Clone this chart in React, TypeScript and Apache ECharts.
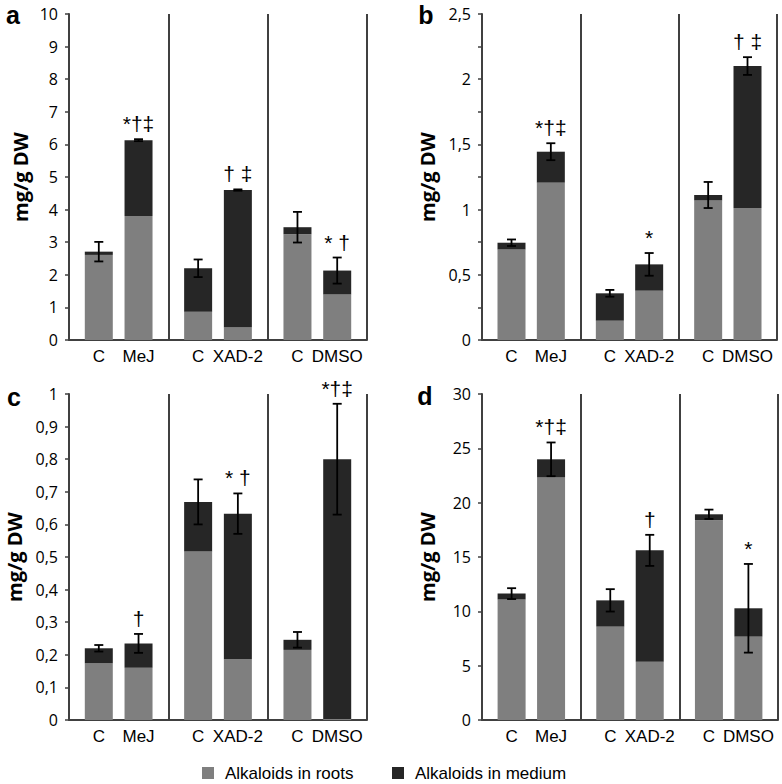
import React, { useEffect, useRef } from 'react';
import * as echarts from 'echarts';

// ---- data ----
const CATEGORIES = ['C', 'MeJ', 'C', 'XAD-2', 'C', 'DMSO'];
const SERIES_NAMES = ['Alkaloids in roots', 'Alkaloids in medium'];

// panel a
const A_ROOTS = [2.61, 3.8, 0.87, 0.38, 3.24, 1.4];
const A_MEDIUM = [0.1, 2.33, 1.33, 4.22, 0.22, 0.73];
const A_ERR = [0.3, 0.03, 0.27, 0.02, 0.47, 0.4];
const A_MARKS = ['', '*†‡', '', '† ‡', '', '* †'];

// panel b
const B_ROOTS = [0.695, 1.207, 0.148, 0.378, 1.071, 1.012];
const B_MEDIUM = [0.051, 0.237, 0.21, 0.202, 0.041, 1.089];
const B_ERR = [0.025, 0.065, 0.026, 0.087, 0.1, 0.068];
const B_MARKS = ['', '*†‡', '', '*', '', '† ‡'];

// panel c
const C_ROOTS = [0.174, 0.16, 0.517, 0.186, 0.215, 0.003];
const C_MEDIUM = [0.046, 0.075, 0.152, 0.447, 0.031, 0.797];
const C_ERR = [0.01, 0.029, 0.069, 0.062, 0.024, 0.17];
const C_MARKS = ['', '†', '', '* †', '', '*†‡'];

// panel d
const D_ROOTS = [11.1, 22.33, 8.59, 5.37, 18.37, 7.67];
const D_MEDIUM = [0.53, 1.66, 2.42, 10.24, 0.56, 2.61];
const D_ERR = [0.5, 1.55, 1.03, 1.43, 0.43, 4.08];
const D_MARKS = ['', '*†‡', '', '†', '', '*'];

// axis scales
const A_AXIS = { max: 10, interval: 1, labelEvery: 1 };
const B_AXIS = { max: 2.5, interval: 0.25, labelEvery: 2 };
const C_AXIS = { max: 1, interval: 0.1, labelEvery: 1 };
const D_AXIS = { max: 30, interval: 5, labelEvery: 1 };

// ---- layout ----
const SLOT_COUNT = 15;
const SLOTS = [1, 3, 6, 8, 11, 13];
const ROOT_COLOR = '#7f7f7f';
const MEDIUM_COLOR = '#262626';
const AXIS_COLOR = '#404040';

const PANELS = [
  { letter: 'a', roots: A_ROOTS, medium: A_MEDIUM, err: A_ERR, marks: A_MARKS, axis: A_AXIS,
    grid: { left: 69, top: 14, width: 298, height: 326 }, title: [20, 177], letterPos: [13, 15] },
  { letter: 'b', roots: B_ROOTS, medium: B_MEDIUM, err: B_ERR, marks: B_MARKS, axis: B_AXIS,
    grid: { left: 482, top: 14, width: 295, height: 326 }, title: [427, 177], letterPos: [426, 15] },
  { letter: 'c', roots: C_ROOTS, medium: C_MEDIUM, err: C_ERR, marks: C_MARKS, axis: C_AXIS,
    grid: { left: 69, top: 394, width: 298, height: 326 }, title: [14, 557], letterPos: [14, 397] },
  { letter: 'd', roots: D_ROOTS, medium: D_MEDIUM, err: D_ERR, marks: D_MARKS, axis: D_AXIS,
    grid: { left: 482, top: 394, width: 296, height: 326 }, title: [427, 557], letterPos: [425, 396] },
];

function spread(values: (number | string)[], fill: any) {
  const out: any[] = new Array(SLOT_COUNT).fill(fill);
  SLOTS.forEach((s, i) => { out[s] = values[i]; });
  return out;
}

function buildOption() {
  const grids: any[] = [];
  const xAxes: any[] = [];
  const yAxes: any[] = [];
  const series: any[] = [];
  const graphics: any[] = [];

  PANELS.forEach((p, pi) => {
    grids.push({ ...p.grid, outerBoundsMode: 'none' });
    xAxes.push({
      type: 'category',
      gridIndex: pi,
      data: spread(CATEGORIES, ''),
      axisLine: { show: true, lineStyle: { color: AXIS_COLOR, width: 2 } },
      axisTick: { show: false },
      axisLabel: {
        interval: 0, margin: 8, color: '#000', fontSize: 17,
        fontFamily: '"Liberation Sans", Arial, sans-serif',
      },
      splitLine: {
        show: true,
        interval: (idx: number) => idx === 5 || idx === 10,
        lineStyle: { color: AXIS_COLOR, width: 2 },
      },
    });
    const ax = p.axis;
    yAxes.push({
      type: 'value',
      gridIndex: pi,
      min: 0,
      max: ax.max,
      interval: ax.interval,
      axisLine: { show: true, lineStyle: { color: AXIS_COLOR, width: 2 } },
      axisTick: { show: true, length: 4, lineStyle: { color: AXIS_COLOR, width: 1.5 } },
      splitLine: { show: false },
      axisLabel: {
        margin: 11, color: '#000', fontSize: 16,
        fontFamily: '"Open Sans", sans-serif',
        formatter: (v: number) => {
          const k = Math.round(v / ax.interval);
          if (k % ax.labelEvery !== 0) return '';
          const r = Math.round(v * 100) / 100;
          return String(r).replace('.', ',');
        },
      },
    });
    series.push({
      name: SERIES_NAMES[0], type: 'bar', xAxisIndex: pi, yAxisIndex: pi, stack: 'st' + pi,
      barWidth: 28, data: spread(p.roots, null), itemStyle: { color: ROOT_COLOR },
    });
    series.push({
      name: SERIES_NAMES[1], type: 'bar', xAxisIndex: pi, yAxisIndex: pi, stack: 'st' + pi,
      barWidth: 28, data: spread(p.medium, null), itemStyle: { color: MEDIUM_COLOR },
    });
    const marks = p.marks;
    series.push({
      type: 'custom', xAxisIndex: pi, yAxisIndex: pi, z: 5,
      encode: { x: 0, y: 1 },
      data: SLOTS.map((s, i) => [s, p.roots[i] + p.medium[i], p.err[i]]),
      renderItem: (params: any, api: any) => {
        const x = api.value(0);
        const total = api.value(1);
        const e = api.value(2);
        const top = api.coord([x, total + e]);
        const bot = api.coord([x, total - e]);
        const hw = 4.5;
        const st = { stroke: '#000', lineWidth: 1.8 };
        const children: any[] = [
          { type: 'line', shape: { x1: top[0], y1: top[1], x2: bot[0], y2: bot[1] }, style: st },
          { type: 'line', shape: { x1: top[0] - hw, y1: top[1], x2: top[0] + hw, y2: top[1] }, style: st },
          { type: 'line', shape: { x1: bot[0] - hw, y1: bot[1], x2: bot[0] + hw, y2: bot[1] }, style: st },
        ];
        const m = marks[params.dataIndex];
        if (m) {
          children.push({
            type: 'text', x: top[0], y: top[1] - 5,
            style: {
              text: m, fill: '#000', font: '21px "Liberation Sans", Arial, sans-serif',
              align: 'center', verticalAlign: 'bottom',
              textAlign: 'center', textVerticalAlign: 'bottom',
            },
          });
        }
        return { type: 'group', children };
      },
    });

    graphics.push({
      type: 'text', x: p.title[0], y: p.title[1], rotation: Math.PI / 2,
      style: {
        text: 'mg/g DW', fill: '#000', font: 'bold 20px "Open Sans", sans-serif',
        textAlign: 'center', textVerticalAlign: 'middle',
      },
    });
    graphics.push({
      type: 'text', x: p.letterPos[0], y: p.letterPos[1],
      style: {
        text: p.letter, fill: '#000', font: 'bold 25px "Liberation Sans", Arial, sans-serif',
        textAlign: 'center', textVerticalAlign: 'middle',
      },
    });
  });

  // legend
  const legendItems = [
    { x: 202, color: ROOT_COLOR, name: SERIES_NAMES[0] },
    { x: 392, color: MEDIUM_COLOR, name: SERIES_NAMES[1] },
  ];
  legendItems.forEach((li) => {
    graphics.push({ type: 'rect', shape: { x: li.x, y: 767, width: 12, height: 12 }, style: { fill: li.color } });
    graphics.push({
      type: 'text', x: li.x + 23, y: 773,
      style: {
        text: li.name, fill: '#000', font: '17px "Liberation Sans", Arial, sans-serif',
        textAlign: 'left', textVerticalAlign: 'middle',
      },
    });
  });

  return {
    animation: false,
    backgroundColor: '#fff',
    grid: grids,
    xAxis: xAxes,
    yAxis: yAxes,
    series,
    graphic: graphics,
  };
}

export default function App() {
  const ref = useRef<HTMLDivElement>(null);
  useEffect(() => {
    if (!ref.current) return;
    const chart = echarts.init(ref.current, undefined, { renderer: 'svg' });
    chart.setOption(buildOption() as any);
    return () => chart.dispose();
  }, []);
  return (
    <div
      ref={ref}
      style={{ position: 'fixed', left: 0, top: 0, width: 782, height: 784, background: '#fff' }}
    />
  );
}
